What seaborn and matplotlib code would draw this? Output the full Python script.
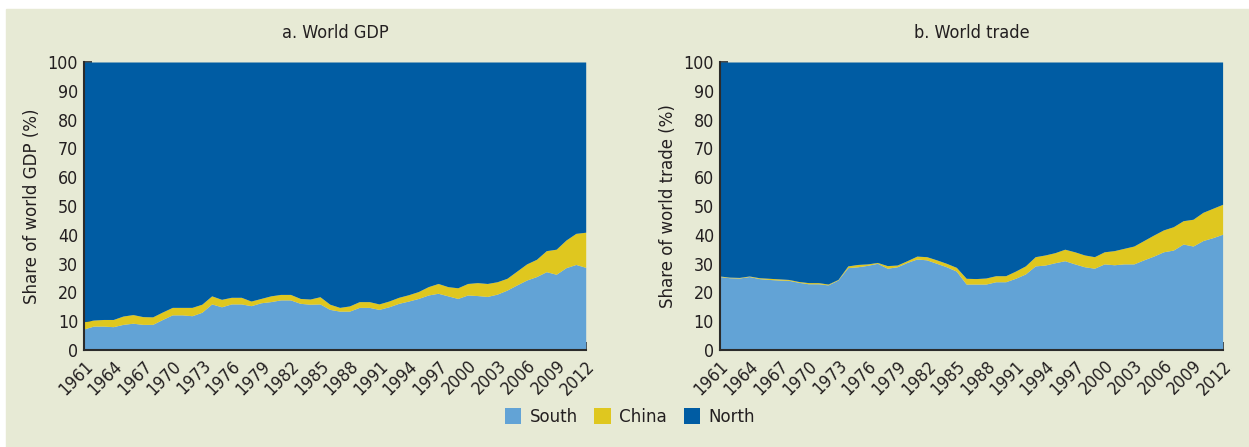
import numpy as np
import pandas as pd
import matplotlib
matplotlib.use("Agg")
import matplotlib.pyplot as plt
from matplotlib.patches import Patch, Rectangle
from matplotlib import font_manager
import seaborn as sns

years = list(range(1961, 2013))

gdp_south = [7.3, 8.3, 8.3, 8.1, 8.9, 9.3, 8.9, 8.9, 10.6, 12.2, 12.2, 11.9, 13.1,
             16.0, 15.0, 16.0, 16.0, 15.4, 16.4, 16.8, 17.4, 17.4, 16.2, 15.9, 16.0,
             14.1, 13.5, 13.5, 14.8, 14.8, 14.1, 15.0, 16.2, 17.0, 17.9, 19.1, 19.7,
             18.8, 17.9, 19.1, 18.9, 18.6, 19.4, 20.8, 22.6, 24.3, 25.5, 27.2, 26.3,
             28.6, 29.7, 28.7]
gdp_china_top = [9.8, 10.4, 10.6, 10.6, 11.8, 12.3, 11.6, 11.5, 13.2, 14.8, 14.8, 14.8, 15.9,
                 18.8, 17.6, 18.3, 18.3, 17.0, 17.9, 18.8, 19.3, 19.3, 17.9, 17.7, 18.5,
                 15.9, 14.8, 15.3, 16.8, 16.8, 16.0, 17.0, 18.3, 19.2, 20.3, 22.0, 23.1,
                 22.0, 21.6, 23.1, 23.4, 23.1, 23.7, 24.9, 27.4, 29.9, 31.5, 34.5, 35.0,
                 38.2, 40.5, 40.9]

trade_south = [25.5, 25.1, 25.0, 25.5, 24.8, 24.5, 24.3, 24.2, 23.5, 23.0, 23.0, 22.6, 24.3,
               28.6, 28.9, 29.4, 30.1, 28.4, 28.9, 30.4, 31.6, 31.3, 30.1, 28.9, 27.4,
               22.9, 22.9, 22.9, 23.7, 23.7, 24.9, 26.4, 29.2, 29.5, 30.3, 31.0, 29.9,
               28.9, 28.4, 29.9, 29.6, 29.9, 29.9, 31.3, 32.6, 34.1, 34.7, 36.8, 36.1,
               38.0, 39.0, 40.2]
trade_china_top = [25.7, 25.3, 25.2, 25.7, 25.1, 24.9, 24.7, 24.5, 23.8, 23.4, 23.4, 22.9, 24.5,
                   29.2, 29.7, 29.9, 30.4, 29.3, 29.5, 31.0, 32.6, 32.4, 31.3, 30.1, 28.7,
                   24.9, 24.8, 25.0, 25.8, 25.8, 27.4, 29.2, 32.4, 33.0, 33.8, 35.0, 34.1,
                   33.0, 32.4, 34.1, 34.5, 35.3, 36.1, 38.0, 39.9, 41.7, 42.8, 44.9, 45.4,
                   47.8, 49.2, 50.6]

series_names = ["South", "China", "North"]
panel_titles = ["a. World GDP", "b. World trade"]
y_labels = ["Share of world GDP (%)", "Share of world trade (%)"]
tick_years = list(range(1961, 2013, 3))

colors = {"South": "#62A3D6", "China": "#DFC71F", "North": "#005CA3"}
bg = "#E7EAD5"

sns.set_theme(style="ticks")
installed = {f.name for f in font_manager.fontManager.ttflist}
fam = [f for f in ["Liberation Sans Narrow", "DejaVu Sans"] if f in installed] or ["DejaVu Sans"]
plt.rcParams["font.family"] = fam
plt.rcParams["font.stretch"] = "condensed"

fig = plt.figure(figsize=(12.49, 4.47), dpi=100, facecolor="white")
fig.patches.append(Rectangle((6 / 1249, 0), 1, (447 - 9) / 447,
                             transform=fig.transFigure, color=bg, zorder=-10))

axes = [fig.add_axes([83.7 / 1249, 97 / 447, 502 / 1249, 288 / 447]),
        fig.add_axes([719.6 / 1249, 97 / 447, 503 / 1249, 288 / 447])]

datasets = [(gdp_south, gdp_china_top), (trade_south, trade_china_top)]
title_x = [335, 972]

for ax, (south, ctop), title, ylab, tx in zip(axes, datasets, panel_titles, y_labels, title_x):
    df = pd.DataFrame({"year": years, "South": south, "ChinaTop": ctop})
    df["China"] = df["ChinaTop"] - df["South"]
    df["North"] = 100 - df["ChinaTop"]
    ax.stackplot(df["year"], df["South"], df["China"], df["North"],
                 colors=[colors[n] for n in series_names], linewidth=0)
    ax.set_xlim(1961, 2012)
    ax.set_ylim(0, 100)
    ax.set_facecolor(bg)
    ax.set_yticks(range(0, 101, 10))
    ax.set_xticks(tick_years)
    ax.set_xticklabels([str(y) for y in tick_years], rotation=45, ha="right",
                       rotation_mode="anchor")
    ax.tick_params(axis="both", direction="in", length=6, width=1.2, color="#2b2b2b",
                   labelsize=12.8, labelcolor="#231f20", pad=4)
    ax.tick_params(axis="x", pad=5)
    sns.despine(ax=ax, top=True, right=True)
    for s in ["left", "bottom"]:
        ax.spines[s].set_color("#2b2b2b")
        ax.spines[s].set_linewidth(1.5)
        ax.spines[s].set_zorder(5)
    ax.set_ylabel(ylab, fontsize=13.3, color="#231f20", labelpad=5)
    ax.set_xlabel("")
    fig.text(tx / 1249, 1 - 33 / 447, title, ha="center", va="center",
             fontsize=13, color="#231f20")

handles = [Patch(facecolor=colors[n], edgecolor="none", label=n) for n in series_names]
fig.legend(handles=handles, loc="center left", bbox_to_anchor=(488 / 1249, 1 - 417 / 447),
           ncol=3, frameon=False, fontsize=13.3, handlelength=0.9, handleheight=1.0,
           handletextpad=0.45, columnspacing=0.9, labelcolor="#231f20")

fig.savefig("out.png", dpi=100, facecolor=fig.get_facecolor())
